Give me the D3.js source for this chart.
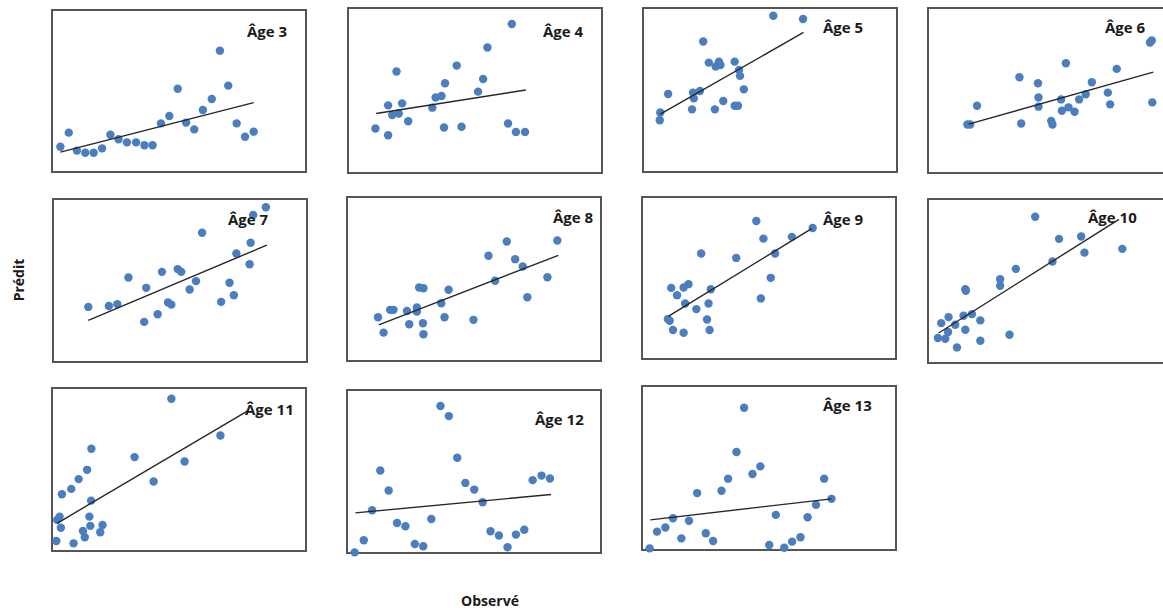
<!DOCTYPE html>
<html>
<head>
<meta charset="utf-8">
<script src="https://cdn.jsdelivr.net/npm/d3@7"></script>
<style>
  html, body { margin: 0; padding: 0; background: #fff; }
  svg { display: block; }
</style>
</head>
<body>
<svg id="chart" width="1163" height="612"></svg>
<script>
// ---------- DATA (observed vs predicted scores, 0–100 scale per panel) ----------
const ages = [3, 4, 5, 6, 7, 8, 9, 10, 11, 12, 13];
const panelTitles = ages.map(a => "Âge " + a);

const observed = [
  [3.3,6.6,9.8,13.1,16.4,19.7,23.0,26.2,29.5,33.1,36.4,39.6,42.9,46.2,49.5,52.8,56.0,59.4,62.9,66.1,69.4,72.7,76.0,79.4],
  [10.8,15.8,15.8,17.4,19.1,20.0,21.3,23.7,33.2,34.5,36.8,37.8,38.2,42.8,44.7,51.2,53.2,54.9,63.0,64.5,66.1,69.7],
  [6.6,6.8,9.9,19.3,19.7,20.0,22.4,23.7,25.9,28.3,28.6,29.9,30.5,31.6,36.1,36.1,37.4,37.8,38.2,39.7,51.3,63.0],
  [15.5,16.6,19.3,36.0,36.7,43.3,43.5,43.5,48.5,49.0,52.4,52.7,54.3,55.3,57.7,59.5,62.1,64.5,70.8,71.7,74.3,87.4,88.1,88.3],
  [13.9,22.0,25.3,29.7,35.9,36.7,41.2,42.9,45.3,46.6,49.1,50.5,53.8,56.3,58.7,66.2,69.5,71.2,72.2,77.4,77.8,78.8,83.8],
  [12.2,14.4,17.0,18.3,23.6,24.5,27.5,27.5,28.4,30.1,29.9,30.1,37.1,38.4,40.0,49.8,55.7,58.3,62.9,66.2,69.2,71.0,78.9,82.8],
  [10.2,10.9,12.2,11.5,13.8,16.4,16.4,17.0,18.3,21.4,23.3,26.2,25.6,26.6,27.1,37.1,45.0,46.8,47.8,50.7,52.4,59.0,67.2],
  [3.9,5.2,6.8,7.9,8.1,10.7,11.4,14.0,14.7,14.9,14.7,17.3,20.6,20.6,28.4,28.4,32.1,34.6,42.2,49.0,51.6,60.3,61.6,76.5],
  [1.7,2.0,3.0,3.5,3.9,7.6,8.5,10.5,12.2,12.9,13.8,14.7,15.1,15.4,15.5,19.0,19.9,32.5,40.0,47.0,52.2,66.3],
  [3.0,6.6,9.9,13.1,16.4,19.7,23.0,26.7,30.0,33.2,36.8,40.1,43.4,46.6,50.1,53.4,56.5,59.8,63.2,66.5,69.8,73.1,76.6,79.9],
  [3.0,5.9,9.2,12.2,15.5,18.5,21.7,25.1,28.0,31.3,33.9,37.2,40.2,43.5,46.6,50.1,52.7,56.0,59.1,62.4,65.2,68.5,71.7,74.6]
];

const predicted = [
  [15.6,24.3,13.2,11.9,11.9,14.6,23.0,20.2,18.3,18.3,16.5,16.5,30.0,34.6,51.4,30.5,26.3,38.3,45.1,74.9,53.3,30.0,21.8,24.9],
  [27.0,22.9,41.0,35.1,61.5,36.1,42.2,31.4,39.6,45.8,46.7,27.6,54.4,65.1,28.0,49.3,57.0,76.1,30.0,90.3,24.9,24.9],
  [31.6,36.3,47.6,38.2,48.4,44.9,49.4,79.6,66.7,38.2,64.3,67.3,65.3,43.3,67.3,40.4,40.4,62.2,58.6,50.4,95.3,93.3],
  [29.4,29.4,40.8,58.0,30.0,54.4,45.8,40.2,31.6,29.4,44.6,37.7,66.5,39.8,37.1,44.6,47.7,55.0,48.7,41.6,63.1,79.1,80.3,42.8],
  [33.8,34.4,35.5,51.8,24.6,45.5,29.3,55.3,36.5,35.2,57.0,55.3,44.5,49.6,79.3,36.9,48.6,41.0,66.6,60.0,73.2,90.2,94.9],
  [26.7,17.3,31.2,31.2,30.5,22.4,32.6,30.1,44.8,44.4,23.0,16.3,35.2,26.7,43.4,25.1,64.2,48.9,72.9,62.1,57.6,38.9,51.1,73.5],
  [24.6,23.6,17.9,43.9,39.4,16.2,44.1,34.3,46.2,30.8,65.1,34.3,24.4,17.9,43.1,62.4,85.2,37.4,74.3,50.1,65.1,75.4,80.9],
  [15.2,24.3,14.8,18.9,28.0,23.3,9.5,28.8,45.0,44.0,20.3,29.8,26.0,13.6,51.1,47.1,17.2,57.4,89.2,61.9,75.7,77.1,67.3,69.6],
  [6.1,19.1,21.1,14.3,34.8,38.1,4.7,44.1,12.3,8.4,49.8,21.1,15.4,30.9,62.7,11.5,16.0,57.6,42.6,93.4,54.9,70.9],
  [0.4,7.8,26.2,50.6,38.3,18.4,16.4,5.5,4.1,20.9,90.2,84.0,58.4,43.0,38.9,31.1,13.3,10.7,3.5,11.3,14.3,44.7,47.5,45.7],
  [1.0,11.2,13.7,19.4,7.1,17.8,34.7,10.2,5.5,36.1,43.5,59.8,86.7,46.3,51.0,3.1,21.4,1.4,5.1,7.8,20.0,27.6,43.5,31.2]
];

// regression line end points [observed, predicted]
const fitStart = [[3.3,12.3],[11.1,36.1],[6.8,35.3],[16.0,29.6],[13.9,25.6],[12.5,22.0],[10.5,26.5],[4.2,18.3],[2.0,17.0],[3.3,24.6],[3.3,18.4]];
const fitEnd   = [[79.4,42.8],[70.0,50.3],[63.2,85.1],[88.7,61.1],[84.2,71.7],[83.2,64.4],[66.8,80.5],[75.2,87.6],[77.4,86.3],[80.3,35.9],[74.6,31.2]];

const xAxisTitle = "Observé";
const yAxisTitle = "Prédit";

// ---------- LAYOUT (panel boxes and title anchors, pixels) ----------
const panelLeft   = [52, 348, 643, 928, 53, 347, 642, 928, 52, 347, 642];
const panelTop    = [10, 8, 8, 8, 199, 197, 197, 199, 388, 390, 386];
const panelBottom = [172, 173, 172, 173, 362, 361, 359, 363, 551, 553, 550];
const panelWidth  = 254;
const titleX = [247, 543, 823, 1105, 228, 553, 823, 1088, 245, 535, 823];
const titleY = [37, 37, 33, 33, 225, 223, 225, 223, 415, 425, 411];

// ---------- DRAW ----------
const svg = d3.select("#chart");
const dotColor = "#4a7ebf";
const fontFam = "'Open Sans', 'DejaVu Sans', sans-serif";

ages.forEach((age, i) => {
  const x = d3.scaleLinear().domain([0, 100]).range([panelLeft[i], panelLeft[i] + panelWidth]);
  const y = d3.scaleLinear().domain([0, 100]).range([panelBottom[i], panelTop[i]]);
  const g = svg.append("g").attr("class", "panel");

  g.append("rect")
    .attr("x", x(0)).attr("y", y(100))
    .attr("width", x(100) - x(0)).attr("height", y(0) - y(100))
    .attr("fill", "#fff")
    .attr("stroke", "#555")
    .attr("stroke-width", 2);

  const pts = observed[i].map((o, k) => ({ o, p: predicted[i][k] }));
  g.selectAll("circle").data(pts).enter().append("circle")
    .attr("cx", d => x(d.o))
    .attr("cy", d => y(d.p))
    .attr("r", 4.2)
    .attr("fill", dotColor);

  const line = d3.line().x(d => x(d[0])).y(d => y(d[1]));
  g.append("path")
    .attr("d", line([fitStart[i], fitEnd[i]]))
    .attr("stroke", "#262626")
    .attr("stroke-width", 1.4)
    .attr("fill", "none");

  g.append("text")
    .attr("x", titleX[i]).attr("y", titleY[i])
    .attr("font-family", fontFam)
    .attr("font-weight", 700)
    .attr("font-size", 15)
    .attr("fill", "#1a1a1a")
    .text(panelTitles[i]);
});

svg.append("text")
  .attr("transform", "translate(24,280) rotate(-90)")
  .attr("text-anchor", "middle")
  .attr("font-family", fontFam)
  .attr("font-weight", 700)
  .attr("font-size", 14)
  .attr("fill", "#1a1a1a")
  .text(yAxisTitle);

svg.append("text")
  .attr("x", 490).attr("y", 606)
  .attr("text-anchor", "middle")
  .attr("font-family", fontFam)
  .attr("font-weight", 700)
  .attr("font-size", 14)
  .attr("fill", "#1a1a1a")
  .text(xAxisTitle);
</script>
</body>
</html>
